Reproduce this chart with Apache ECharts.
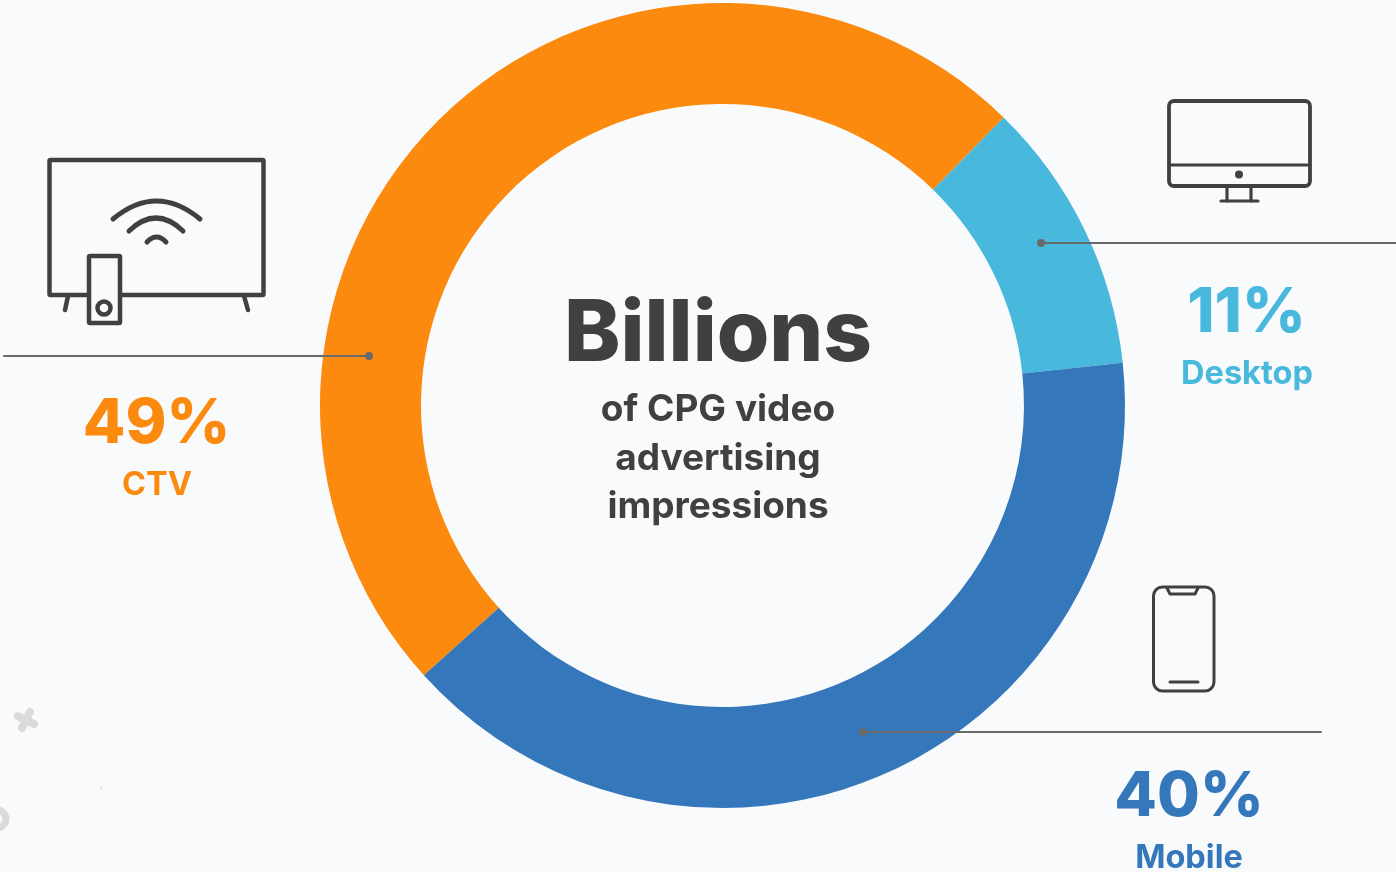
<!DOCTYPE html>
<html><head><meta charset="utf-8">
<style>html,body{margin:0;padding:0;background:#f9fafc}#c{width:1396px;height:872px}</style>
<script src="https://cdn.jsdelivr.net/npm/echarts@6/dist/echarts.min.js"></script>
</head><body><div id="c"></div>
<script>
const categories = ['CTV', 'Desktop', 'Mobile'];
const shares = [49, 11, 40];
const colours = ['#fc8a0e', '#48b8dc', '#3577bb'];
const centreLines = ['of CPG video', 'advertising', 'impressions'];
const headline = 'Billions';

const INK = '#404040', LEAD = '#6a6a6a', BG = '#f9fafc', FONT = 'Inter, "Open Sans", sans-serif';
const txt = (text, x, y, size, fill, weight) => ({type:'text', silent:true, x, y, style:{text, fill, font:`${weight||700} ${size}px ${FONT}`, textAlign:'center', textVerticalAlign:'middle'}});
const stroke = (w, extra) => Object.assign({stroke:INK, lineWidth:w, fill:'none', lineCap:'round', lineJoin:'round'}, extra||{});
const line = (x1,y1,x2,y2,w,c) => ({type:'line', silent:true, shape:{x1,y1,x2,y2}, style:{stroke:c||INK, lineWidth:w, lineCap:'round'}});
const rect = (x,y,width,height,r,w,fill) => ({type:'rect', silent:true, shape:{x,y,width,height,r}, style:stroke(w,{fill:fill||'none'})});
const dot = (cx,cy,r,fill) => ({type:'circle', silent:true, shape:{cx,cy,r}, style:{fill}});
const arc = (x1,y,x2,cy,w) => ({type:'bezierCurve', silent:true, shape:{x1,y1:y,x2,y2:y,cpx1:x1+(x2-x1)/3,cpy1:y+(cy-y)*2/3,cpx2:x2-(x2-x1)/3,cpy2:y+(cy-y)*2/3}, style:stroke(w)});

const tv = [
  rect(49.5,160,214,135,1,4.5),
  line(68,296,65,310,4.5), line(244,296,248,310,4.5),
  arc(113,219,200,183,5), arc(129,231,183,205,5), arc(147,242,166,232,5),
  rect(89,256,31,67,1,4.5,BG),
  {type:'circle', silent:true, shape:{cx:104,cy:308,r:6.5}, style:stroke(4.5)}
];
const monitor = [
  rect(1169,101,141,85,5,3.8),
  line(1169,165,1310,165,3.2),
  dot(1239,174.5,4,INK),
  line(1227,186,1227,201,3.2), line(1251,186,1251,201,3.2), line(1221,201,1258,201,3.2)
];
const phone = [
  rect(1153.5,587,60.5,104,9,3),
  {type:'polyline', silent:true, shape:{points:[[1167,588],[1170,594],[1195,594],[1198,588]]}, style:stroke(3)},
  line(1170,682,1198,682,3)
];
const leaders = [
  line(4,356,369,356,2,LEAD), dot(369,356,4,LEAD),
  line(1041,243,1396,243,2,LEAD), dot(1041,243,4,LEAD),
  line(863,732,1321,732,2,LEAD), dot(863,732,4,LEAD)
];
const specks = [
  {type:'group', silent:true, x:26, y:720, rotation:-0.45, children:[
    {type:'rect', shape:{x:-13,y:-4,width:26,height:8,r:4}, style:{fill:'#d9dadc'}},
    {type:'rect', shape:{x:-4,y:-13,width:8,height:26,r:4}, style:{fill:'#d9dadc'}}]},
  {type:'circle', silent:true, shape:{cx:-3,cy:819,r:9}, style:{fill:'none', stroke:'#d9dadc', lineWidth:7}},
  {type:'polygon', silent:true, shape:{points:[[100,785],[103,790],[100,788]]}, style:{fill:'#d9dadc'}}
];
const labelPos = [[156.5,424,157,485],[1246.5,313,1247,374],[1189,797,1189,858]];
const labels = categories.flatMap((c,i)=>[
  txt(shares[i]+'%', labelPos[i][0], labelPos[i][1], 62, colours[i], 800),
  txt(c, labelPos[i][2], labelPos[i][3], 32.5, colours[i], 700)
]);
const centre = [
  txt(headline, 718, 335, 85, INK, 800),
  ...centreLines.map((t,i)=>txt(t, 718, 410+i*48.5, 37, INK, 700))
];

const chart = echarts.init(document.getElementById('c'), null, {renderer:'canvas'});
chart.setOption({
  backgroundColor: BG,
  animation:false,
  series:[{
    type:'pie', silent:true,
    center:[722.5,405.5], radius:[301.5,402.5],
    startAngle:-137.9, clockwise:true,
    label:{show:false}, labelLine:{show:false},
    data:categories.map((name,i)=>({name, value:shares[i], itemStyle:{color:colours[i]}}))
  }],
  graphic:{elements:[...specks,...tv,...monitor,...phone,...leaders,...labels,...centre].map(e=>Object.assign(e,{z:10}))}
});
</script></body></html>
